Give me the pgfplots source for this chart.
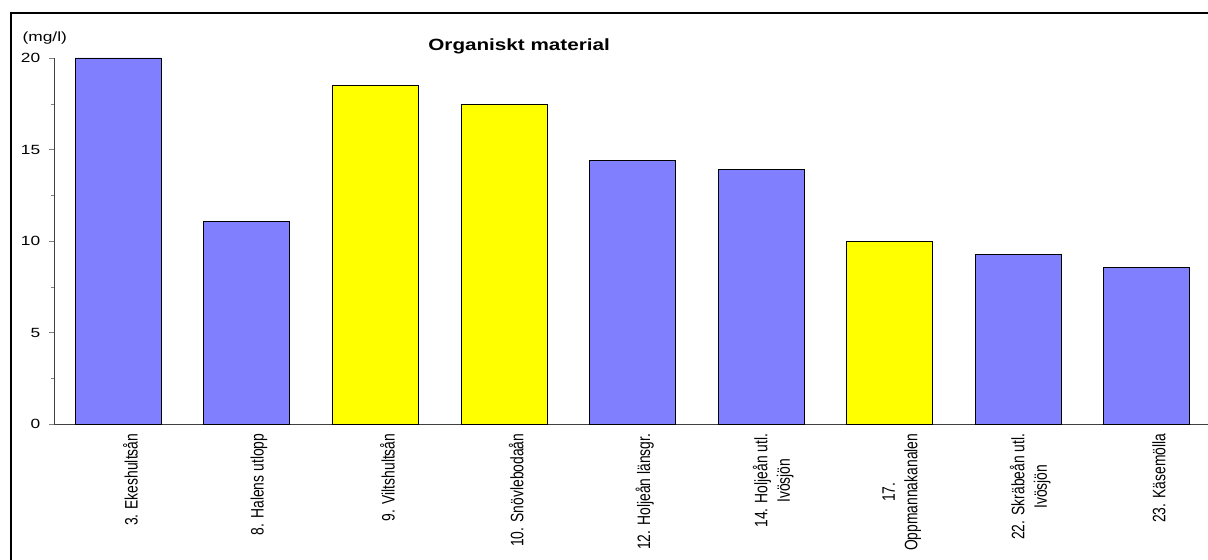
\documentclass[border=0pt]{standalone}
\usepackage{fontspec}
\setmainfont{Liberation Sans}
\usepackage{pgfplots}
\pgfplotsset{compat=1.18}
\definecolor{barblue}{RGB}{128,128,255}
\definecolor{baryellow}{RGB}{255,255,0}
\begin{document}
\begin{tikzpicture}[x=0.75pt,y=0.75pt]
\useasboundingbox (0,0) rectangle (1208,560);
\clip (0,0) rectangle (1208,560);
% outer frame (only top and left edges fall inside the picture)
\draw[line width=1.5pt] (11,-20) -- (11,547) -- (1230,547);
\begin{axis}[
    at={(40.5pt,102pt)}, anchor=south west,
    scale only axis,
    width=867.75pt, height=274.5pt,
    xmin=-0.5, xmax=8.5, ymin=0, ymax=20,
    ybar, bar width=64.5pt, bar shift=0pt,
    axis lines=left, axis line style={-, black!75, line width=0.7pt},
    /pgf/number format/assume math mode=true,
    tick align=outside,
    ytick={0,5,10,15,20},
    minor ytick={2.5,7.5,12.5,17.5},
    major tick length=3.75pt, minor tick length=2.6pt,
    major x tick style={draw=none},
    xtick={0,...,8},
    xticklabels={{3. Ekeshultsån},{8. Halens utlopp},{9. Viltshultsån},{10. Snövlebodaån},{12. Holjeån länsgr.},{14. Holjeån utl.\\Ivösjön},{17.\\Oppmannakanalen},{22. Skräbeån utl.\\Ivösjön},{23. Käsemölla}},
    xticklabel style={xscale=1.3, rotate=90, anchor=east, align=center, yshift=-7pt,
        font=\fontsize{10.4}{13}\selectfont},
    yticklabel style={xscale=1.3, anchor=east, xshift=-1.5pt, font=\fontsize{10}{12}\selectfont},
    clip=false,
]
\addplot[fill=barblue, draw=black, line width=0.6pt] coordinates {
    (0,20.0) (1,11.06) (4,14.40) (5,13.92) (7,9.26) (8,8.55)};
\addplot[fill=baryellow, draw=black, line width=0.6pt] coordinates {
    (2,18.5) (3,17.47) (6,9.97)};
\node[xscale=1.27, font=\fontsize{12.2}{14}\selectfont\bfseries] at (rel axis cs:0.402,1.031) {Organiskt material};
\node[xscale=1.3, font=\fontsize{10}{12}\selectfont] at (rel axis cs:-0.008,1.055) {(mg/l)};
\end{axis}
\end{tikzpicture}
\end{document}
